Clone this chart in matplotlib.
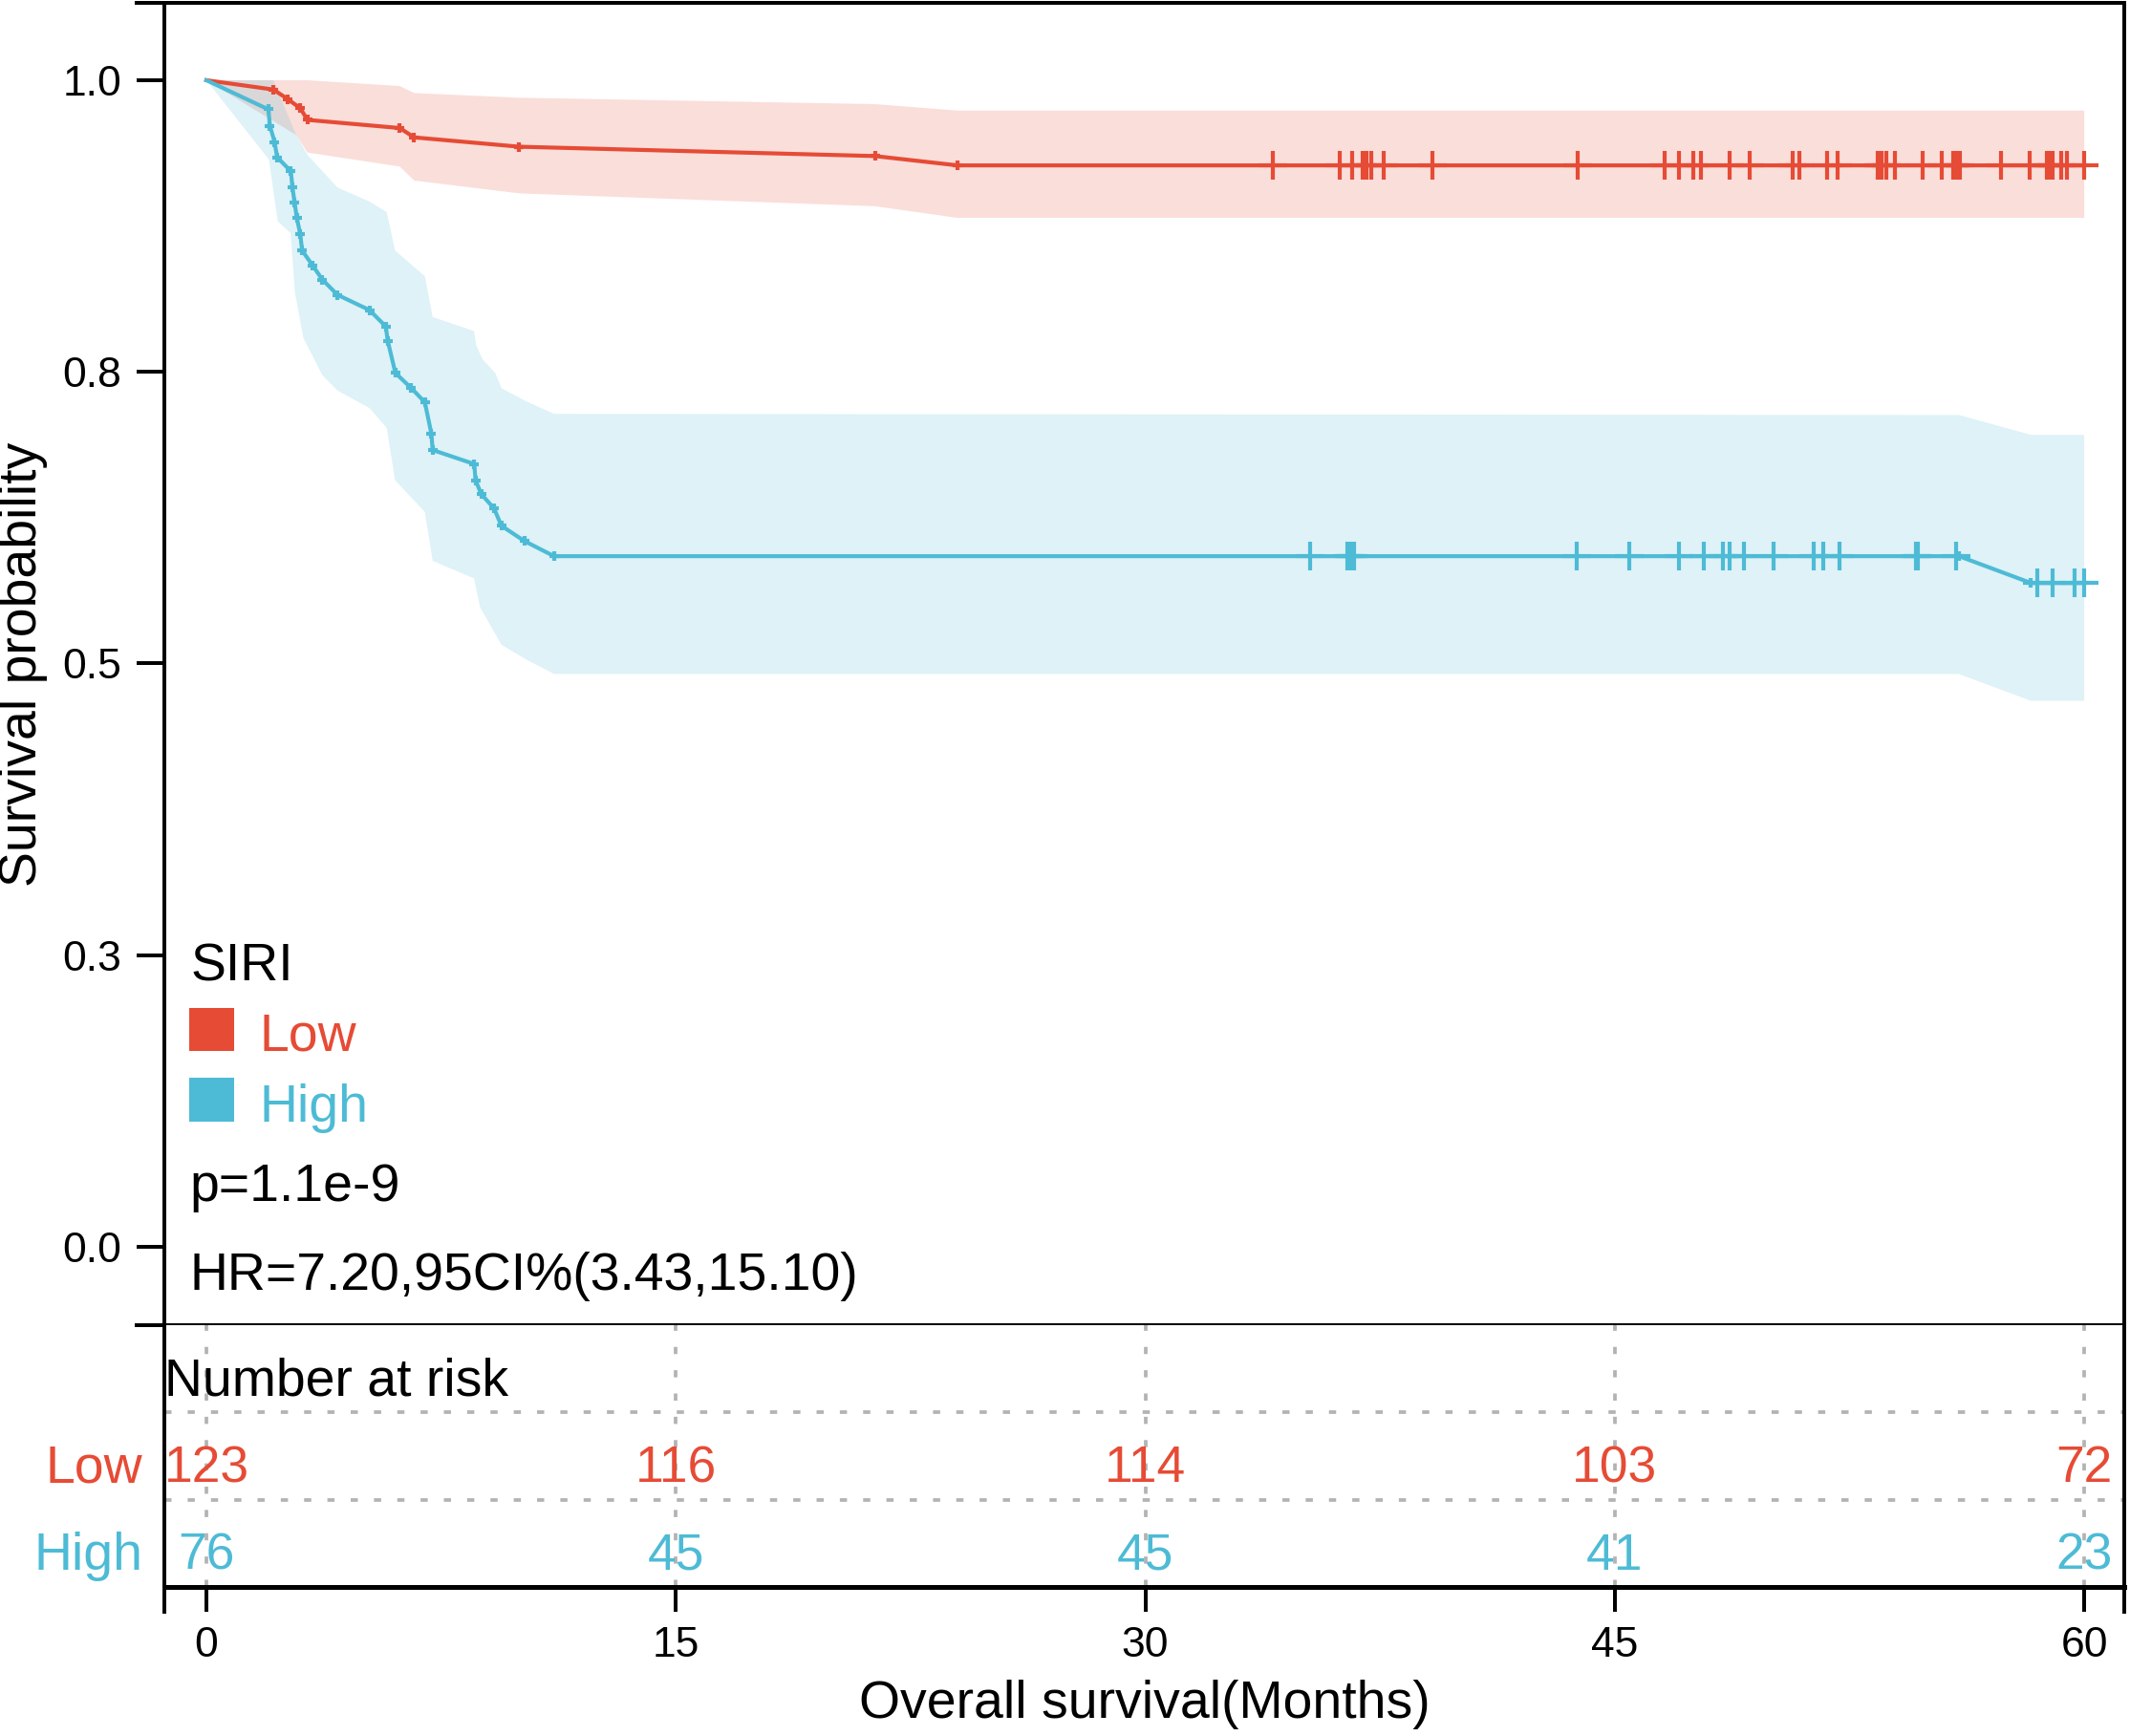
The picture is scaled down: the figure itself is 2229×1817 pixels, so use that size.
import numpy as np
import matplotlib
matplotlib.use('Agg')
import matplotlib.pyplot as plt
from matplotlib.patches import Rectangle

plt.rcParams['font.family'] = ['Liberation Sans', 'DejaVu Sans']

# colours of the two SIRI groups
RED = '#E64B35'
BLUE = '#4DBBD5'

# Kaplan-Meier curve vertices (months, survival)
low_t = [0, 2.14, 2.59, 3.0, 3.23, 6.18, 6.64, 10.0, 21.36, 24.0, 60.0]
low_s = [1.0, 0.992, 0.984, 0.976, 0.966, 0.959, 0.951, 0.943, 0.935, 0.927, 0.927]

high_t = [0, 1.98, 2.03, 2.18, 2.26, 2.70, 2.75, 2.82, 2.89, 3.0, 3.06, 3.40, 3.71,
          4.19, 5.21, 5.73, 5.80, 6.04, 6.55, 6.98, 7.19, 7.23, 8.56, 8.60, 8.79,
          9.19, 9.43, 10.16, 11.11, 56.0, 58.3, 60.0]
high_s = [1.0, 0.975, 0.961, 0.947, 0.934, 0.922, 0.908, 0.895, 0.882, 0.868, 0.854,
          0.841, 0.829, 0.816, 0.803, 0.789, 0.776, 0.749, 0.736, 0.724, 0.697, 0.683,
          0.671, 0.657, 0.645, 0.633, 0.618, 0.605, 0.592, 0.592, 0.569, 0.569]

# confidence band edges
low_up_t = [0, 3.23, 6.18, 6.64, 10.0, 21.36, 24.0, 60.0]
low_up = [1.0, 1.0, 0.995, 0.989, 0.985, 0.9795, 0.974, 0.974]
low_lo_t = [0, 2.87, 3.23, 6.18, 6.64, 10.0, 21.36, 24.0, 60.0]
low_lo = [1.0, 0.953, 0.938, 0.926, 0.914, 0.903, 0.892, 0.882, 0.882]

high_up_t = [0, 2.14, 2.87, 3.23, 4.19, 5.21, 5.76, 6.03, 6.98, 7.23, 8.55, 8.62,
             8.82, 9.23, 9.43, 10.2, 11.11, 56.0, 58.3, 60.0]
high_up = [1.0, 1.0, 0.953, 0.936, 0.908, 0.896, 0.887, 0.854, 0.832, 0.797, 0.785,
           0.773, 0.761, 0.749, 0.736, 0.725, 0.714, 0.713, 0.696, 0.696]
high_lo_t = [0, 2.0, 2.28, 2.69, 2.83, 3.10, 3.71, 4.19, 5.21, 5.76, 6.03, 6.98, 7.23,
             8.55, 8.75, 9.43, 10.25, 11.11, 56.0, 58.3, 60.0]
high_lo = [1.0, 0.932, 0.879, 0.869, 0.818, 0.779, 0.747, 0.734, 0.719, 0.702, 0.657,
           0.630, 0.588, 0.573, 0.548, 0.516, 0.503, 0.491, 0.491, 0.468, 0.468]

# censoring times
low_cens = [34.09, 36.20, 36.62, 36.94, 37.06, 37.22, 37.62, 39.17, 43.83, 46.58,
            47.04, 47.52, 47.74, 48.66, 49.30, 50.69, 50.89, 51.79, 52.13, 53.39,
            53.53, 53.69, 53.95, 54.85, 55.46, 55.80, 55.90, 56.04, 57.34, 58.26,
            58.82, 58.90, 59.00, 59.26, 59.46, 60.0]
high_cens = [35.28, 36.46, 36.56, 36.66, 43.79, 45.46, 47.04, 47.86, 48.46, 48.68,
             49.14, 50.09, 51.37, 51.67, 52.17, 54.63, 54.69, 55.92, 58.50, 59.0,
             59.70, 60.0]

# number at risk table
risk_times = [0, 15, 30, 45, 60]
risk_low = [123, 116, 114, 103, 72]
risk_high = [76, 45, 45, 41, 23]

y_ticks = [0, 0.25, 0.5, 0.75, 1.0]
y_ticklabels = ['0.0', '0.3', '0.5', '0.8', '1.0']

fig = plt.figure(figsize=(2229 / 300, 1817 / 300), dpi=300)
ax1 = fig.add_axes([0.07716, 0.23665, 0.92014, 0.76169])
ax2 = fig.add_axes([0.07716, 0.08586, 0.92014, 0.15080])

xlim = (-1.343, 61.28)
frame_lw = 0.95

# --- survival curves ---
def draw_group(t, s, up_t, up, lo_t, lo, cens, color):
    ax1.fill(np.r_[up_t, lo_t[::-1]], np.r_[up, lo[::-1]], color=color, alpha=0.18, lw=0)
    ax1.plot(t, s, color=color, lw=1.0, marker='+', ms=2.4, mew=1.0,
             markevery=list(range(1, len(t) - 1)))
    ax1.plot(cens, np.interp(cens, t, s), ls='none', marker='+', ms=7, mew=1.0, color=color)

draw_group(low_t, low_s, low_up_t, low_up, low_lo_t, low_lo, low_cens, RED)
draw_group(high_t, high_s, high_up_t, high_up, high_lo_t, high_lo, high_cens, BLUE)

ax1.set_xlim(*xlim)
ax1.set_ylim(-0.0672, 1.0663)
ax1.set_yticks(y_ticks)
ax1.set_yticklabels(y_ticklabels)
ax1.tick_params(axis='y', length=7, width=frame_lw, pad=3.8, labelsize=10.7)
ax1.tick_params(axis='x', bottom=False, labelbottom=False)
for sp in ['top', 'bottom']:
    ax1.spines[sp].set_visible(False)
for sp in ['left', 'right']:
    ax1.spines[sp].set_linewidth(frame_lw)
# top and bottom rules run out to the end of the y ticks
for yy in (1, 0):
    ax1.plot([-0.0141, 1], [yy, yy], transform=ax1.transAxes, color='black',
             lw=frame_lw, clip_on=False, solid_capstyle='projecting')

# legend block
ax1.text(0.0136, 0.2608, 'SIRI', transform=ax1.transAxes, fontsize=13.3, va='baseline')
ax1.add_patch(Rectangle((0.0127, 0.2074), 0.0229, 0.0325, transform=ax1.transAxes,
                        color=RED, lw=0))
ax1.text(0.0483, 0.2074, 'Low', transform=ax1.transAxes, fontsize=13.3, va='baseline', color=RED)
ax1.add_patch(Rectangle((0.0127, 0.1539), 0.0229, 0.0332, transform=ax1.transAxes,
                        color=BLUE, lw=0))
ax1.text(0.0483, 0.1539, 'High', transform=ax1.transAxes, fontsize=13.3, va='baseline', color=BLUE)
ax1.text(0.0127, 0.0939, 'p=1.1e-9', transform=ax1.transAxes, fontsize=13.3, va='baseline')
ax1.text(0.0127, 0.0267, 'HR=7.20,95CI%(3.43,15.10)', transform=ax1.transAxes,
         fontsize=13.3, va='baseline')

# --- risk table ---
ax2.set_xlim(*xlim)
ax2.set_ylim(0, 3)
grid_kw = dict(color='#b3b3b3', lw=0.9, ls=(0, (2, 4.5)))
for x in risk_times:
    ax2.axvline(x, **grid_kw)
for yy in (1, 2):
    ax2.axhline(yy, **grid_kw)
ax2.text(0.0, 2.19, 'Number at risk', transform=ax2.get_yaxis_transform(),
         fontsize=13.3, va='baseline', ha='left')
for x, n in zip(risk_times, risk_low):
    ax2.text(x, 1.20, str(n), color=RED, fontsize=12.8, ha='center', va='baseline')
for x, n in zip(risk_times, risk_high):
    ax2.text(x, 0.197, str(n), color=BLUE, fontsize=12.8, ha='center', va='baseline')
ax2.text(-0.0112, 1.20, 'Low', color=RED, fontsize=13.3, ha='right', va='baseline',
         transform=ax2.get_yaxis_transform())
ax2.text(-0.0112, 0.197, 'High', color=BLUE, fontsize=13.3, ha='right', va='baseline',
         transform=ax2.get_yaxis_transform())

ax2.set_xticks(risk_times)
ax2.set_yticks([])
ax2.tick_params(axis='x', length=6.2, width=frame_lw, pad=3.6, labelsize=10.7)
ax2.spines['top'].set_visible(False)
ax2.spines['bottom'].set_linewidth(1.2)
for sp in ['left', 'right']:
    ax2.spines[sp].set_visible(False)
for xx in (0, 1):
    ax2.plot([xx, xx], [-0.095, 1], transform=ax2.transAxes, color='black',
             lw=frame_lw, clip_on=False)

fig.text(0.0108, 0.6175, 'Survival probability', rotation=90, fontsize=13.3,
         ha='center', va='center')
fig.text(0.07716 + 0.92014 / 2, 0.0105, 'Overall survival(Months)', fontsize=13.3,
         ha='center', va='baseline')

fig.savefig('out.png', dpi=300)
